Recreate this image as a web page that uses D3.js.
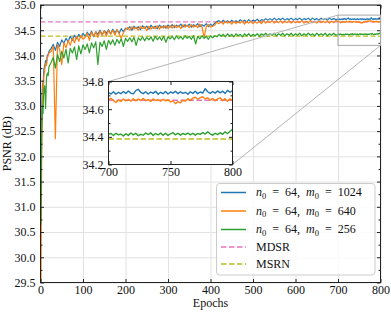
<!DOCTYPE html>
<html>
<head>
<meta charset="utf-8">
<script src="https://cdn.jsdelivr.net/npm/d3@7"></script>
<style>
  body { margin: 0; background: #fff; }
  svg { display: block; }
  text { font-family: "Liberation Serif", "Times New Roman", serif; }
</style>
</head>
<body>
<script>
// Epoch grid: dense at the start, every 5 epochs to 700, every 2 in the zoomed part
var epochs = [1, 2, 3, 4, 5, 6, 7, 8, 10, 12, 14, 16, 18, 20]
    .concat(d3.range(25, 701, 5), d3.range(702, 801, 2));

// n0 = 64, m0 = 1024
var psnr1024 = [
  31.3, 32.3, 32.9, 33.25, 33.45, 33.3, 33.6, 33.72, 33.8, 33.9, 33.85, 34.0, 34.02, 34.08,
  34.14, 34.22, 34.1, 34.26, 34.18, 34.31, 34.24, 34.34, 34.27, 34.38, 34.3, 34.4, 34.33, 34.42, 34.35, 34.44,
  34.38, 34.46, 34.4, 34.48, 34.37, 34.47, 34.42, 34.5, 34.41, 34.49, 34.44, 34.51, 34.43, 34.52, 34.45, 34.51, 34.44, 34.53, 34.47, 34.54,
  34.52, 34.57, 34.5, 34.58, 34.53, 34.57, 34.51, 34.59, 34.54, 34.58, 34.52, 34.6, 34.54, 34.58, 34.53, 34.6, 34.55, 34.59, 34.54, 34.6,
  34.56, 34.61, 34.55, 34.6, 34.57, 34.62, 34.56, 34.61, 34.58, 34.62, 34.56, 34.61, 34.58, 34.63, 34.57, 34.61, 34.58, 34.63, 34.57, 34.62,
  34.59, 34.64, 34.67, 34.69, 34.65, 34.7, 34.66, 34.69, 34.65, 34.7, 34.66, 34.69, 34.66, 34.71, 34.67, 34.7, 34.66, 34.71, 34.67, 34.7,
  34.68, 34.72, 34.67, 34.71, 34.69, 34.73, 34.7, 34.73, 34.7, 34.74, 34.7, 34.73, 34.71, 34.74, 34.7, 34.73, 34.71, 34.74, 34.7, 34.73,
  34.71, 34.74, 34.7, 34.73, 34.71, 34.74, 34.7, 34.74, 34.71, 34.73, 34.7, 34.74, 34.71, 34.73, 34.7, 34.74, 34.71, 34.73, 34.71, 34.72,
  34.71, 34.726, 34.708, 34.722, 34.712, 34.728, 34.714, 34.732, 34.716, 34.71,
  34.734, 34.744, 34.722, 34.712, 34.726, 34.71, 34.724, 34.714, 34.73, 34.708,
  34.722, 34.712, 34.728, 34.71, 34.724, 34.716, 34.73, 34.712, 34.726, 34.714,
  34.722, 34.708, 34.726, 34.714, 34.73, 34.712, 34.724, 34.716, 34.748, 34.726,
  34.714, 34.728, 34.716, 34.732, 34.718, 34.73, 34.714, 34.736, 34.722, 34.734
];

// n0 = 64, m0 = 640
var psnr640 = [
  29.3, 31.0, 32.2, 32.9, 33.2, 33.45, 33.35, 33.6, 33.7, 33.85, 33.8, 33.95, 34.0, 34.05,
  34.08, 34.18, 32.35, 34.22, 34.12, 33.82, 34.25, 34.15, 34.3, 34.2, 34.35, 34.25, 34.38, 34.28, 34.4, 34.32,
  34.36, 34.44, 34.3, 34.46, 34.38, 34.47, 34.36, 34.48, 34.4, 34.49, 34.38, 34.5, 34.42, 34.5, 34.4, 34.51, 34.43, 34.34, 34.45, 34.52,
  34.55, 34.5, 34.57, 34.52, 34.56, 34.5, 34.58, 34.53, 34.57, 34.49, 34.58, 34.52, 34.57, 34.53, 34.59, 34.52, 34.58, 34.54, 34.59, 34.53,
  34.59, 34.54, 34.6, 34.55, 34.59, 34.53, 34.61, 34.56, 34.6, 34.55, 34.61, 34.56, 34.6, 34.55, 34.62, 34.56, 34.36, 34.57, 34.61, 34.56,
  34.58, 34.6, 34.66, 34.63, 34.67, 34.62, 34.68, 34.64, 34.67, 34.62, 34.68, 34.63, 34.67, 34.64, 34.68, 34.62, 34.67, 34.64, 34.68, 34.63,
  34.67, 34.64, 34.68, 34.63, 34.69, 34.64, 34.68, 34.65, 34.69, 34.64, 34.68, 34.65, 34.69, 34.64, 34.68, 34.65, 34.69, 34.64, 34.68, 34.65,
  34.68, 34.65, 34.69, 34.64, 34.68, 34.65, 34.69, 34.65, 34.68, 34.64, 34.69, 34.65, 34.68, 34.65, 34.69, 34.64, 34.68, 34.65, 34.69, 34.67,
  34.678, 34.662, 34.648, 34.666, 34.656, 34.674, 34.66, 34.672, 34.658, 34.676,
  34.66, 34.674, 34.662, 34.678, 34.66, 34.67, 34.656, 34.674, 34.662, 34.668,
  34.658, 34.672, 34.66, 34.668, 34.652, 34.66, 34.64, 34.654, 34.646, 34.664,
  34.658, 34.676, 34.662, 34.68, 34.686, 34.672, 34.684, 34.69, 34.674, 34.682,
  34.664, 34.678, 34.66, 34.674, 34.682, 34.662, 34.676, 34.658, 34.674, 34.664
];

// n0 = 64, m0 = 256
var psnr256 = [
  30.65, 31.8, 32.45, 32.8, 33.0, 32.85, 33.2, 33.3, 33.4, 32.95, 33.55, 33.65, 33.6, 33.78,
  33.86, 33.96, 33.75, 34.02, 33.88, 34.08, 33.95, 34.12, 33.85, 34.14, 34.05, 34.17, 33.92, 34.19, 34.03, 34.21,
  34.12, 34.23, 34.05, 34.25, 34.15, 34.27, 33.82, 34.26, 34.18, 34.29, 34.12, 34.3, 34.22, 34.31, 34.2, 34.32, 34.24, 34.33, 34.18, 34.34,
  34.28, 34.35, 34.27, 34.36, 34.2, 34.35, 34.3, 34.37, 34.29, 34.36, 34.31, 34.37, 34.28, 34.38, 34.31, 34.37, 34.3, 34.38, 34.26, 34.37,
  34.33, 34.38, 34.31, 34.39, 34.33, 34.38, 34.32, 34.39, 34.34, 34.38, 34.32, 34.39, 34.23, 34.38, 34.33, 34.39, 34.34, 34.38, 34.32, 34.39,
  34.35, 34.39, 34.37, 34.42, 34.38, 34.42, 34.37, 34.43, 34.38, 34.42, 34.37, 34.43, 34.39, 34.42, 34.37, 34.43, 34.39, 34.43, 34.38, 34.42,
  34.39, 34.43, 34.38, 34.43, 34.4, 34.44, 34.39, 34.43, 34.4, 34.44, 34.39, 34.43, 34.4, 34.44, 34.39, 34.43, 34.4, 34.44, 34.39, 34.43,
  34.4, 34.44, 34.39, 34.43, 34.4, 34.44, 34.4, 34.43, 34.39, 34.44, 34.4, 34.43, 34.4, 34.44, 34.39, 34.43, 34.4, 34.44, 34.4, 34.42,
  34.424, 34.41, 34.426, 34.414, 34.42, 34.406, 34.422, 34.41, 34.428, 34.414,
  34.426, 34.408, 34.418, 34.412, 34.428, 34.416, 34.43, 34.41, 34.424, 34.414,
  34.428, 34.412, 34.426, 34.41, 34.422, 34.43, 34.414, 34.426, 34.412, 34.424,
  34.416, 34.428, 34.414, 34.426, 34.412, 34.424, 34.418, 34.43, 34.42, 34.436,
  34.422, 34.412, 34.426, 34.416, 34.43, 34.418, 34.436, 34.424, 34.44, 34.454
];

// baselines (constant)
var mdsr = 34.665,
    msrn = 34.385;

var seriesN = [64, 64, 64],
    seriesM = [1024, 640, 256],
    baseNames = ["MDSR", "MSRN"];

var xTicks = [0, 100, 200, 300, 400, 500, 600, 700, 800],
    yTicks = [29.5, 30.0, 30.5, 31.0, 31.5, 32.0, 32.5, 33.0, 33.5, 34.0, 34.5, 35.0],
    insetXTicks = [700, 750, 800],
    insetYTicks = [34.2, 34.4, 34.6, 34.8];

var colors = ["#1f77b4", "#ff7f0e", "#2ca02c", "#e377c2", "#bcbd22"];

// canvas
var canvas = {w: 391, h: 312},
    margin = {top: 5, left: 40.5},
    width = 340,
    height = 277.5;

var svg = d3.select("body").append("svg")
    .attr("width", canvas.w)
    .attr("height", canvas.h);

var defs = svg.append("defs");

var g = svg.append("g")
    .attr("transform", "translate(" + margin.left + "," + margin.top + ")");

var x = d3.scaleLinear().domain([0, 800]).range([0, width]),
    y = d3.scaleLinear().domain([29.5, 35]).range([height, 0]);

defs.append("clipPath").attr("id", "clipMain")
  .append("rect").attr("width", width).attr("height", height);

// gridlines
g.append("g")
    .attr("transform", "translate(0," + height + ")")
    .call(d3.axisBottom(x).tickValues(xTicks).tickSize(-height).tickFormat(""))
    .call(function(s) { s.select(".domain").remove(); })
    .selectAll("line").attr("stroke", "#e2e2e2");
g.append("g")
    .call(d3.axisLeft(y).tickValues(yTicks).tickSize(-width).tickFormat(""))
    .call(function(s) { s.select(".domain").remove(); })
    .selectAll("line").attr("stroke", "#e2e2e2");

var all = [psnr1024, psnr640, psnr256];

var line = d3.line()
    .x(function(d) { return x(d.e); })
    .y(function(d) { return y(d.v); });

function rows(vals) {
  return epochs.map(function(e, i) { return {e: e, v: vals[i]}; });
}

var plot = g.append("g").attr("clip-path", "url(#clipMain)");

// baselines under the curves
plot.append("line")
    .attr("x1", 0).attr("x2", width)
    .attr("y1", y(mdsr)).attr("y2", y(mdsr))
    .attr("stroke", colors[3]).attr("stroke-width", 1.3).attr("stroke-dasharray", "5,2.5");
plot.append("line")
    .attr("x1", 0).attr("x2", width)
    .attr("y1", y(msrn)).attr("y2", y(msrn))
    .attr("stroke", colors[4]).attr("stroke-width", 1.3).attr("stroke-dasharray", "5,2.5");

all.forEach(function(vals, k) {
  plot.append("path")
      .datum(rows(vals))
      .attr("fill", "none")
      .attr("stroke", colors[k])
      .attr("stroke-width", 1.2)
      .attr("stroke-linejoin", "round")
      .attr("d", line);
});

// frame
g.append("rect")
    .attr("width", width).attr("height", height)
    .attr("fill", "none").attr("stroke", "#222").attr("stroke-width", 1);

// ticks, inward on all four sides
function noDomain(s) { s.select(".domain").remove(); }

g.append("g")
    .attr("transform", "translate(0," + height + ")")
    .call(d3.axisBottom(x).tickValues(xTicks).tickSize(-3.5).tickPadding(3).tickFormat(d3.format("d")))
    .call(noDomain);
g.append("g")
    .call(d3.axisTop(x).tickValues(xTicks).tickSize(-3.5).tickFormat(""))
    .call(noDomain);

g.append("g")
    .call(d3.axisLeft(y).tickValues(yTicks).tickSize(-3.5).tickPadding(5).tickFormat(d3.format(".1f")))
    .call(noDomain);
g.append("g")
    .attr("transform", "translate(" + width + ",0)")
    .call(d3.axisRight(y).tickValues(yTicks).tickSize(-3.5).tickFormat(""))
    .call(noDomain);

// minor y ticks
var yMinor = yTicks.slice(0, -1).map(function(t) { return t + 0.25; });
g.append("g")
    .call(d3.axisLeft(y).tickValues(yMinor).tickSize(-2).tickFormat(""))
    .call(noDomain);
g.append("g")
    .attr("transform", "translate(" + width + ",0)")
    .call(d3.axisRight(y).tickValues(yMinor).tickSize(-2).tickFormat(""))
    .call(noDomain);

g.selectAll(".tick text")
    .attr("font-family", "Liberation Serif, serif")
    .attr("font-size", 12)
    .attr("fill", "#111");
g.selectAll(".tick line").filter(function() { return d3.select(this).attr("stroke") !== "#e2e2e2"; })
    .attr("stroke", "#222");

// axis titles
svg.append("text")
    .attr("x", margin.left + width / 2)
    .attr("y", 307)
    .attr("text-anchor", "middle")
    .attr("font-size", 12)
    .attr("fill", "#111")
    .text("Epochs");
svg.append("text")
    .attr("transform", "translate(11," + (margin.top + height / 2) + ") rotate(-90)")
    .attr("text-anchor", "middle")
    .attr("font-size", 12)
    .attr("fill", "#111")
    .text("PSNR (dB)");

// ---------- inset ----------
var inset = {left: 108.5, top: 81.5, w: 124, h: 83};
var xi = d3.scaleLinear().domain([700, 800]).range([0, inset.w]),
    yi = d3.scaleLinear().domain([34.2, 34.8]).range([inset.h, 0]);

// zoom box on the main axes and connector lines
var box = {x0: x(700), x1: x(800), y0: y(34.8), y1: y(34.2)};
g.append("rect")
    .attr("x", box.x0).attr("y", box.y0)
    .attr("width", box.x1 - box.x0).attr("height", box.y1 - box.y0)
    .attr("fill", "none").attr("stroke", "#a8a8a8").attr("stroke-width", 1);
g.append("line")
    .attr("x1", inset.left - margin.left).attr("y1", inset.top - margin.top)
    .attr("x2", box.x0).attr("y2", box.y0)
    .attr("stroke", "#b4b4b4").attr("stroke-width", 1);
g.append("line")
    .attr("x1", inset.left + inset.w - margin.left).attr("y1", inset.top + inset.h - margin.top)
    .attr("x2", box.x1).attr("y2", box.y1)
    .attr("stroke", "#b4b4b4").attr("stroke-width", 1);

var gi = svg.append("g")
    .attr("transform", "translate(" + inset.left + "," + inset.top + ")");

defs.append("clipPath").attr("id", "clipInset")
  .append("rect").attr("width", inset.w).attr("height", inset.h);

gi.append("rect").attr("width", inset.w).attr("height", inset.h).attr("fill", "#fff");

var lineI = d3.line()
    .x(function(d) { return xi(d.e); })
    .y(function(d) { return yi(d.v); });

var ip = gi.append("g").attr("clip-path", "url(#clipInset)");
ip.append("line")
    .attr("x1", 0).attr("x2", inset.w).attr("y1", yi(mdsr)).attr("y2", yi(mdsr))
    .attr("stroke", colors[3]).attr("stroke-width", 1.5).attr("stroke-dasharray", "5.5,2.5");
ip.append("line")
    .attr("x1", 0).attr("x2", inset.w).attr("y1", yi(msrn)).attr("y2", yi(msrn))
    .attr("stroke", colors[4]).attr("stroke-width", 1.5).attr("stroke-dasharray", "5.5,2.5");

all.forEach(function(vals, k) {
  ip.append("path")
      .datum(rows(vals).filter(function(d) { return d.e >= 700; }))
      .attr("fill", "none")
      .attr("stroke", colors[k])
      .attr("stroke-width", 1.4)
      .attr("stroke-linejoin", "round")
      .attr("d", lineI);
});

gi.append("rect")
    .attr("width", inset.w).attr("height", inset.h)
    .attr("fill", "none").attr("stroke", "#222").attr("stroke-width", 1);

var insetYMinor = [34.3, 34.5, 34.7];
gi.append("g")
    .attr("transform", "translate(0," + inset.h + ")")
    .call(d3.axisBottom(xi).tickValues(insetXTicks).tickSize(-3.5).tickPadding(3).tickFormat(d3.format("d")))
    .call(noDomain);
gi.append("g")
    .call(d3.axisTop(xi).tickValues(insetXTicks).tickSize(-3.5).tickFormat(""))
    .call(noDomain);
gi.append("g")
    .call(d3.axisLeft(yi).tickValues(insetYTicks).tickSize(-3.5).tickPadding(5).tickFormat(d3.format(".1f")))
    .call(noDomain);
gi.append("g")
    .attr("transform", "translate(" + inset.w + ",0)")
    .call(d3.axisRight(yi).tickValues(insetYTicks).tickSize(-3.5).tickFormat(""))
    .call(noDomain);
gi.append("g")
    .call(d3.axisLeft(yi).tickValues(insetYMinor).tickSize(-2).tickFormat(""))
    .call(noDomain);
gi.append("g")
    .attr("transform", "translate(" + inset.w + ",0)")
    .call(d3.axisRight(yi).tickValues(insetYMinor).tickSize(-2).tickFormat(""))
    .call(noDomain);
gi.selectAll(".tick text")
    .attr("font-family", "Liberation Serif, serif")
    .attr("font-size", 12)
    .attr("fill", "#111");
gi.selectAll(".tick line").attr("stroke", "#222");

// ---------- legend ----------
var leg = svg.append("g").attr("transform", "translate(216.5,183.5)");
leg.append("rect")
    .attr("width", 158.5).attr("height", 91.5).attr("rx", 3)
    .attr("fill", "#fff").attr("fill-opacity", 0.85)
    .attr("stroke", "#cccccc").attr("stroke-width", 1);

var rowY = [9, 27.5, 46, 63.5, 80.5];

seriesM.forEach(function(m, k) {
  leg.append("line")
      .attr("x1", 4.5).attr("x2", 29.5).attr("y1", rowY[k]).attr("y2", rowY[k])
      .attr("stroke", colors[k]).attr("stroke-width", 1.5);
  var t = leg.append("text")
      .attr("x", 39.5).attr("y", rowY[k]).attr("dy", "0.33em")
      .attr("font-family", "DejaVu Sans, sans-serif")
      .attr("font-size", 12)
      .attr("word-spacing", "3px")
      .attr("fill", "#111");
  t.append("tspan").attr("font-style", "italic").text("n");
  t.append("tspan").attr("font-size", 8.5).attr("dy", 2.5).text("0");
  t.append("tspan").attr("dy", -2.5).text(" = " + seriesN[k] + ", ");
  t.append("tspan").attr("font-style", "italic").text("m");
  t.append("tspan").attr("font-size", 8.5).attr("dy", 2.5).text("0");
  t.append("tspan").attr("dy", -2.5).text(" = " + m);
});

baseNames.forEach(function(name, j) {
  var yy = rowY[3 + j];
  leg.append("line")
      .attr("x1", 4.5).attr("x2", 29.5).attr("y1", yy).attr("y2", yy)
      .attr("stroke", colors[3 + j]).attr("stroke-width", 1.5).attr("stroke-dasharray", "5.5,2.5");
  leg.append("text")
      .attr("x", 39.5).attr("y", yy).attr("dy", "0.35em")
      .attr("font-size", 12)
      .attr("fill", "#111")
      .text(name);
});
</script>
</body>
</html>
